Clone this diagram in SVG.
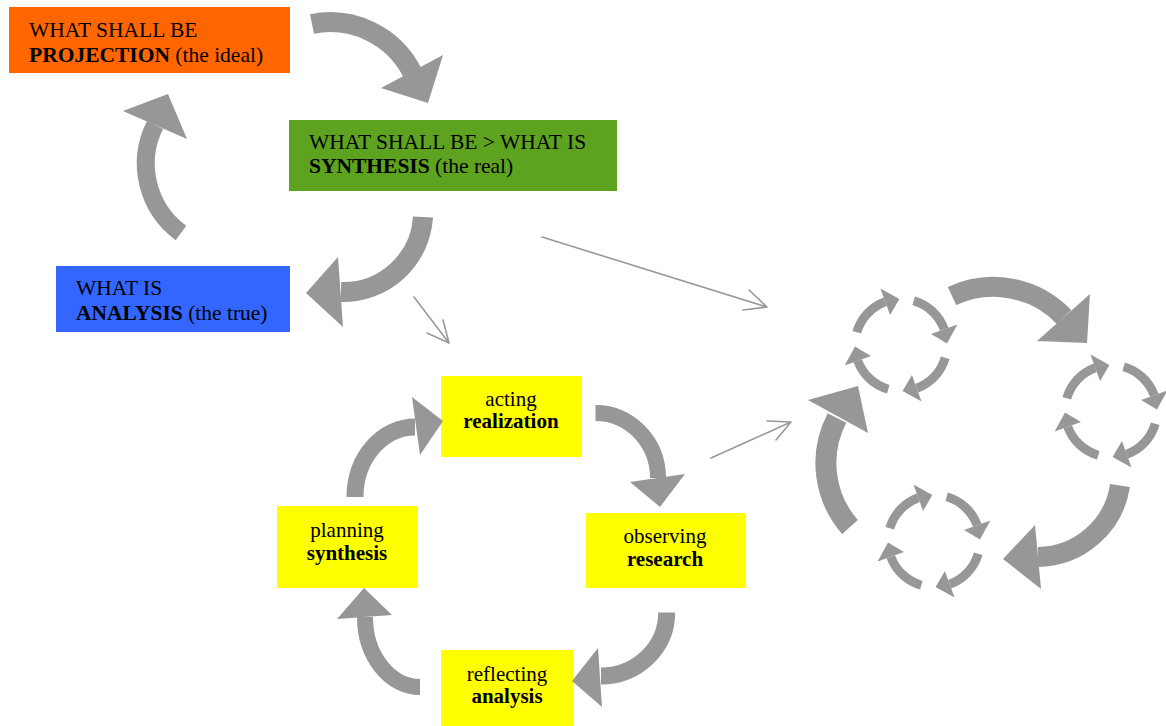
<svg xmlns="http://www.w3.org/2000/svg" width="1166" height="726" viewBox="0 0 1166 726">
<style>
.t{font-family:"Liberation Serif","Times New Roman",serif;font-size:21px;fill:#000}
.tt{font-size:21.5px}
.b{font-weight:bold}
.c{text-anchor:middle}
.arc{fill:none;stroke:#979797;stroke-linecap:butt}
.hd{fill:#979797;stroke:none}
.thin{fill:none;stroke:#999999;stroke-width:1.6;stroke-linecap:round;stroke-linejoin:round}
</style>
<defs>
<g id="sa">
<path class="arc" stroke-width="9" d="M-44.22,-12.68 A46,46 0 0 1 -15.73,-43.23"/>
<polygon class="hd" points="-10.94,-30.07 -20.52,-56.38 -1.61,-45.97"/>
</g>
<g id="cyc">
<use href="#sa"/>
<use href="#sa" transform="rotate(90)"/>
<use href="#sa" transform="rotate(180)"/>
<use href="#sa" transform="rotate(270)"/>
</g>
</defs>
<rect width="1166" height="726" fill="#ffffff"/>

<g id="projection">
<rect x="9" y="7" width="281" height="66" fill="#FF6600"/>
<text class="t tt" x="29" y="37">WHAT SHALL BE</text>
<text class="t tt" x="29" y="62"><tspan class="b">PROJECTION</tspan> (the ideal)</text>
</g>
<g id="synthesis-top">
<rect x="289" y="120" width="328" height="71" fill="#5EA31F"/>
<text class="t tt" x="309" y="149">WHAT SHALL BE &gt; WHAT IS</text>
<text class="t tt" x="309" y="173"><tspan class="b">SYNTHESIS</tspan> (the real)</text>
</g>
<g id="analysis-top">
<rect x="56" y="266" width="234" height="66" fill="#3366FF"/>
<text class="t tt" x="76" y="295">WHAT IS</text>
<text class="t tt" x="76" y="320"><tspan class="b">ANALYSIS</tspan> (the true)</text>
</g>
<g id="acting">
<rect x="441" y="376" width="141" height="81" fill="#FFFF00"/>
<text class="t c" x="511" y="406">acting</text>
<text class="t c b" x="511" y="428">realization</text>
</g>
<g id="observing">
<rect x="586" y="513" width="160" height="75" fill="#FFFF00"/>
<text class="t c" x="665" y="543">observing</text>
<text class="t c b" x="665" y="566">research</text>
</g>
<g id="reflecting">
<rect x="441" y="650" width="132" height="76" fill="#FFFF00"/>
<text class="t c" x="507" y="681">reflecting</text>
<text class="t c b" x="507" y="703">analysis</text>
</g>
<g id="planning">
<rect x="277" y="506" width="141" height="82" fill="#FFFF00"/>
<text class="t c" x="347" y="537">planning</text>
<text class="t c b" x="347" y="560">synthesis</text>
</g>

<g id="cycles">
<use href="#cyc" transform="translate(901,345)"/>
<use href="#cyc" transform="translate(1111,411)"/>
<use href="#cyc" transform="translate(934,541)"/>
</g>

<g id="connectors">
<path class="arc" stroke-width="20" d="M312,24 A92,92 0 0 1 412,72"/>
<polygon class="hd" points="443,55 381,88 428,103"/>
<path class="arc" stroke-width="20" d="M423,217 A80,80 0 0 1 341,292"/>
<polygon class="hd" points="338,257 343,327 306,293"/>
<path class="arc" stroke-width="18" d="M181,233 A86,86 0 0 1 155,125"/>
<polygon class="hd" points="123,111 187,139 168,94"/>

<path class="arc" stroke-width="17" d="M355,497 A60,70 0 0 1 415,427"/>
<polygon class="hd" points="412,397 420,455 443,421"/>
<path class="arc" stroke-width="16" d="M595.5,413 A62.5,65 0 0 1 658,478"/>
<polygon class="hd" points="630,482 685,474 660,507"/>
<path class="arc" stroke-width="17" d="M666.7,612.5 A65.7,63.5 0 0 1 601,676"/>
<polygon class="hd" points="598,648 602,707 572,681"/>
<path class="arc" stroke-width="16" d="M420,687 A55,70 0 0 1 365,617"/>
<polygon class="hd" points="337,619 392,615 364,588"/>

<path class="arc" stroke-width="20" d="M952,296 A98,98 0 0 1 1064,317"/>
<polygon class="hd" points="1090,294 1037,341 1087,343"/>
<path class="arc" stroke-width="20" d="M1120,485.5 A84,84 0 0 1 1038,557"/>
<polygon class="hd" points="1035,525 1041,589 1003,559"/>
<path class="arc" stroke-width="21" d="M850,527 A97,97 0 0 1 837,418"/>
<polygon class="hd" points="808,400 868,433 858,386"/>

<path class="thin" d="M542,237 L767,307 M749,290 L767,307 L743,310"/>
<path class="thin" d="M711,458 L791,422 M767,421 L791,422 L776,440"/>
<path class="thin" d="M414,297 L449,343 M427,333 L449,343 L443,320"/>
</g>
</svg>
